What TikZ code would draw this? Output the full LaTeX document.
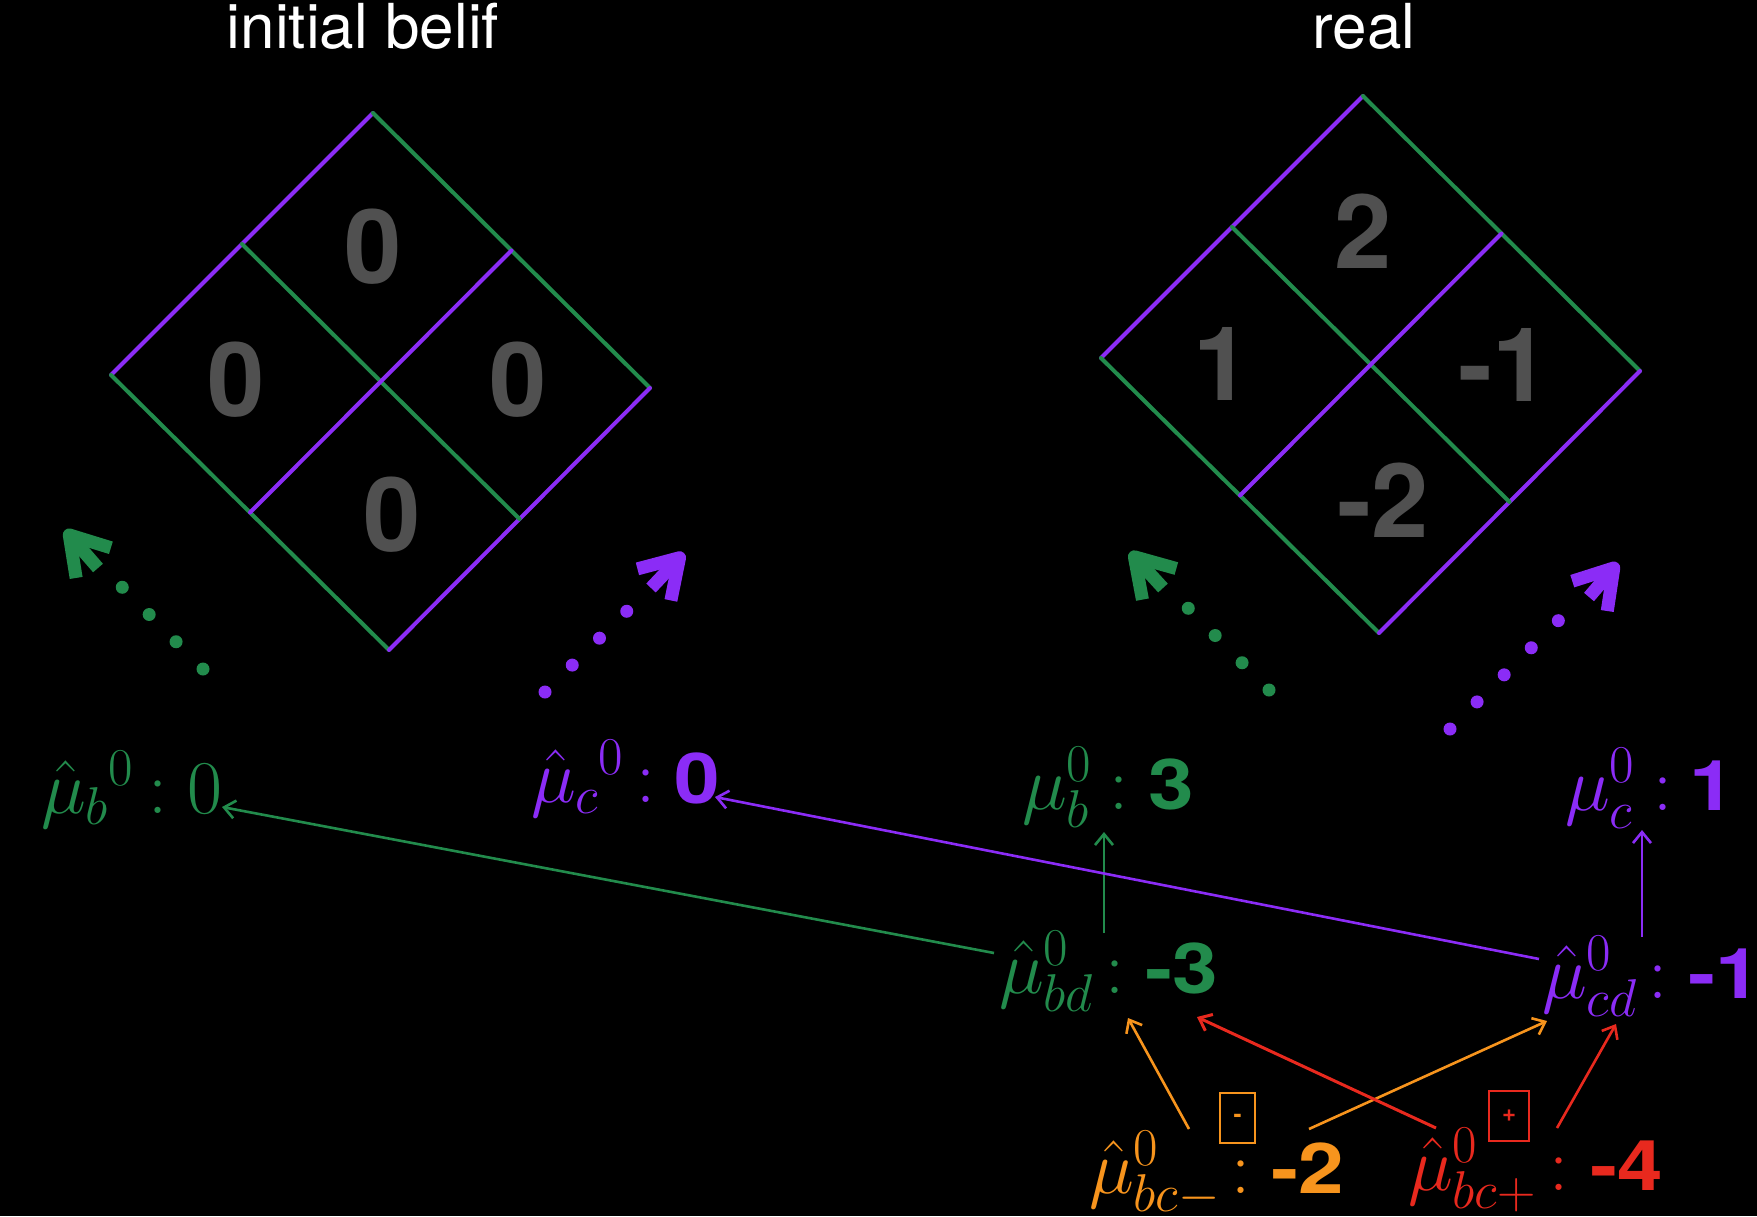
\IfFileExists{fix-cm.sty}{\RequirePackage{fix-cm}}{}
\documentclass[tikz,border=0pt]{standalone}
\usepackage{fontspec}
\newfontfamily\heros{TeX Gyre Heros}
\newfontfamily\herosw[FakeStretch=1.17]{TeX Gyre Heros}
\usetikzlibrary{arrows.meta}
\definecolor{cgreen}{RGB}{34,139,76}
\definecolor{cpurple}{RGB}{139,44,246}
\definecolor{corange}{RGB}{247,148,29}
\definecolor{cred}{RGB}{232,41,30}
\definecolor{cgray}{RGB}{80,80,80}
\newcommand\mathfs{\fontsize{76}{80}\selectfont}
\newcommand\valfs{\fontsize{70}{74}\selectfont\herosw\bfseries}
\newcommand\cellfs{\fontsize{103}{110}\selectfont\heros\bfseries}
\begin{document}
\begin{tikzpicture}[x=1pt,y=-1pt,
  lbl/.style={inner sep=0pt, outer sep=0pt, font=\mathfs},
  val/.style={inner sep=0pt, outer sep=0pt, font=\valfs},
  cell/.style={inner sep=0pt, text=cgray, font=\cellfs},
  ttl/.style={inner sep=0pt, text=white, font=\fontsize{62}{66}\selectfont\heros},
  dedge/.style={line width=4pt, line cap=round},
  conn/.style={line width=2.6pt, -{Straight Barb[length=11pt,width=18pt]}},
  dotline/.style={line width=13pt, line cap=round, dash pattern=on 0pt off 38.3pt},
  headline/.style={line width=13pt, -{Straight Barb[length=37pt,width=46pt,line join=round,line cap=butt]}},
  signbox/.style={draw, line width=2.5pt, inner sep=0pt, minimum width=35pt, minimum height=50pt, font=\fontsize{24}{24}\selectfont\heros\bfseries}
]
\useasboundingbox (0,0) rectangle (1757,1216);
\fill[black] (0,0) rectangle (1757,1216);

% titles
\node[ttl, anchor=base] (t1) at (363,48) {initial belif};
\node[ttl, anchor=base] (t2) at (1364,48) {real};

% left diamond
\draw[dedge, cpurple] (373,113) -- (111,375);
\draw[dedge, cgreen] (373,113) -- (650,388);
\draw[dedge, cgreen] (111,375) -- (389,650);
\draw[dedge, cpurple] (650,388) -- (389,650);
\draw[dedge, cgreen] (242,244) -- (519.5,519);
\draw[dedge, cpurple] (511.5,250.5) -- (250,512.5);
\node[cell] (l1) at (373,247) {0};
\node[cell] (l2) at (236,380) {0};
\node[cell] (l3) at (518,380) {0};
\node[cell] (l4) at (392,515) {0};

% right diamond
\draw[dedge, cpurple] (1363,96) -- (1101,358);
\draw[dedge, cgreen] (1363,96) -- (1640,371);
\draw[dedge, cgreen] (1101,358) -- (1379,633);
\draw[dedge, cpurple] (1640,371) -- (1379,633);
\draw[dedge, cgreen] (1232,227) -- (1509.5,502);
\draw[dedge, cpurple] (1501.5,233.5) -- (1240,495.5);
\node[cell] (r1) at (1363,231) {2};
\node[cell] (r2) at (1222,364) {1};
\node[cell] (r3) at (1504,365) {-1};
\node[cell] (r4) at (1383,500) {-2};

% dotted arrows
\coordinate (gLs) at (203,669); \coordinate (gLe) at (122,587);
\coordinate (gLh) at (98,568);  \coordinate (gLt) at (65,530);
\coordinate (pLs) at (545,692); \coordinate (pLe) at (627,611);
\coordinate (pLh) at (651,588); \coordinate (pLt) at (684,553);
\coordinate (gRs) at (1269,690); \coordinate (gRe) at (1188,608);
\coordinate (gRh) at (1163,588); \coordinate (gRt) at (1130,552);
\coordinate (pRs) at (1450,729); \coordinate (pRe) at (1559,620);
\coordinate (pRh) at (1589,597); \coordinate (pRt) at (1618,563);
\draw[dotline, cgreen] (gLs) -- (gLe);
\draw[headline, cgreen] (gLh) -- (gLt);
\draw[dotline, cpurple] (pLs) -- (pLe);
\draw[headline, cpurple] (pLh) -- (pLt);
\draw[dotline, cgreen] (gRs) -- (gRe);
\draw[headline, cgreen] (gRh) -- (gRt);
\draw[dotline, cpurple] (pRs) -- (pRe);
\draw[headline, cpurple] (pRh) -- (pRt);

% labels
\node[lbl, text=cgreen, anchor=base west] (bhsym) at (41,813) {${\hat{\mu}_{b}}{}^{0}$};
\node[lbl, text=cgreen, anchor=base] (bhcol) at (158,813) {$:$};
\node[lbl, text=cgreen, anchor=base west] (bhval) at (187,813) {$0$};

\node[lbl, text=cpurple, anchor=base west] (chsym) at (531,802) {${\hat{\mu}_{c}}{}^{0}$};
\node[lbl, text=cpurple, anchor=base] (chcol) at (646,802) {$:$};
\node[val, text=cpurple, anchor=base west] (chval) at (674,803) {0};

\node[lbl, text=cgreen, anchor=base west] (brsym) at (1022,809) {$\mu_{b}^{0}$};
\node[lbl, text=cgreen, anchor=base] (brcol) at (1119,809) {$:$};
\node[val, text=cgreen, anchor=base west] (brval) at (1148,809) {3};

\node[lbl, text=cpurple, anchor=base west] (crsym) at (1565,810) {$\mu_{c}^{0}$};
\node[lbl, text=cpurple, anchor=base] (crcol) at (1663,810) {$:$};
\node[val, text=cpurple, anchor=base west] (crval) at (1689,810) {1};

\node[lbl, text=cgreen, anchor=base west] (bdsym) at (999,993) {$\hat{\mu}_{bd}^{0}$};
\node[lbl, text=cgreen, anchor=base] (bdcol) at (1115,993) {$:$};
\node[val, text=cgreen, anchor=base west] (bdval) at (1145,993) {-3};

\node[lbl, text=cpurple, anchor=base west] (cdsym) at (1542,998) {$\hat{\mu}_{cd}^{0}$};
\node[lbl, text=cpurple, anchor=base] (cdcol) at (1658,998) {$:$};
\node[val, text=cpurple, anchor=base west] (cdval) at (1688,998) {-1};

\node[lbl, text=corange, anchor=base west] (bcmsym) at (1089,1193) {$\hat{\mu}_{bc-}^{0}$};
\node[lbl, text=corange, anchor=base] (bcmcol) at (1241,1193) {$:$};
\node[val, text=corange, anchor=base west] (bcmval) at (1271,1193) {-2};
\node[signbox, draw=corange, text=corange] (mbox) at (1237.5,1118) {-};

\node[lbl, text=cred, anchor=base west] (bcpsym) at (1408,1190) {$\hat{\mu}_{bc+}^{0}$};
\node[lbl, text=cred, anchor=base] (bcpcol) at (1559,1190) {$:$};
\node[val, text=cred, anchor=base west] (bcpval) at (1590,1190) {-4};
\node[signbox, draw=cred, text=cred, minimum width=40pt] (pbox) at (1509,1116) {+};

% connectors
\draw[conn, cgreen] ([xshift=-5pt,yshift=40pt]bdsym.base west) -- ([xshift=35pt,yshift=6pt]bhval.base west);
\draw[conn, cgreen] ([xshift=-11pt,yshift=60pt]bdcol.base) -- ([xshift=-15pt,yshift=-23pt]brcol.base);
\draw[conn, cpurple] ([xshift=-3pt,yshift=39pt]cdsym.base west) -- ([xshift=41pt,yshift=6pt]chval.base west);
\draw[conn, cpurple] ([xshift=-16pt,yshift=61pt]cdcol.base) -- ([xshift=-21pt,yshift=-20pt]crcol.base);
\draw[conn, corange] ([xshift=100pt,yshift=64pt]bcmsym.base west) -- ([xshift=129pt,yshift=-25pt]bdsym.base west);
\draw[conn, corange] ([xshift=38pt,yshift=64pt]bcmval.base west) -- ([xshift=5pt,yshift=-23pt]cdsym.base west);
\draw[conn, cred, line width=3pt] ([xshift=28pt,yshift=62pt]bcpsym.base west) -- ([xshift=52pt,yshift=-24pt]bdval.base west);
\draw[conn, cred] ([xshift=149pt,yshift=62pt]bcpsym.base west) -- ([xshift=74pt,yshift=-26pt]cdsym.base west);
\end{tikzpicture}
\end{document}
